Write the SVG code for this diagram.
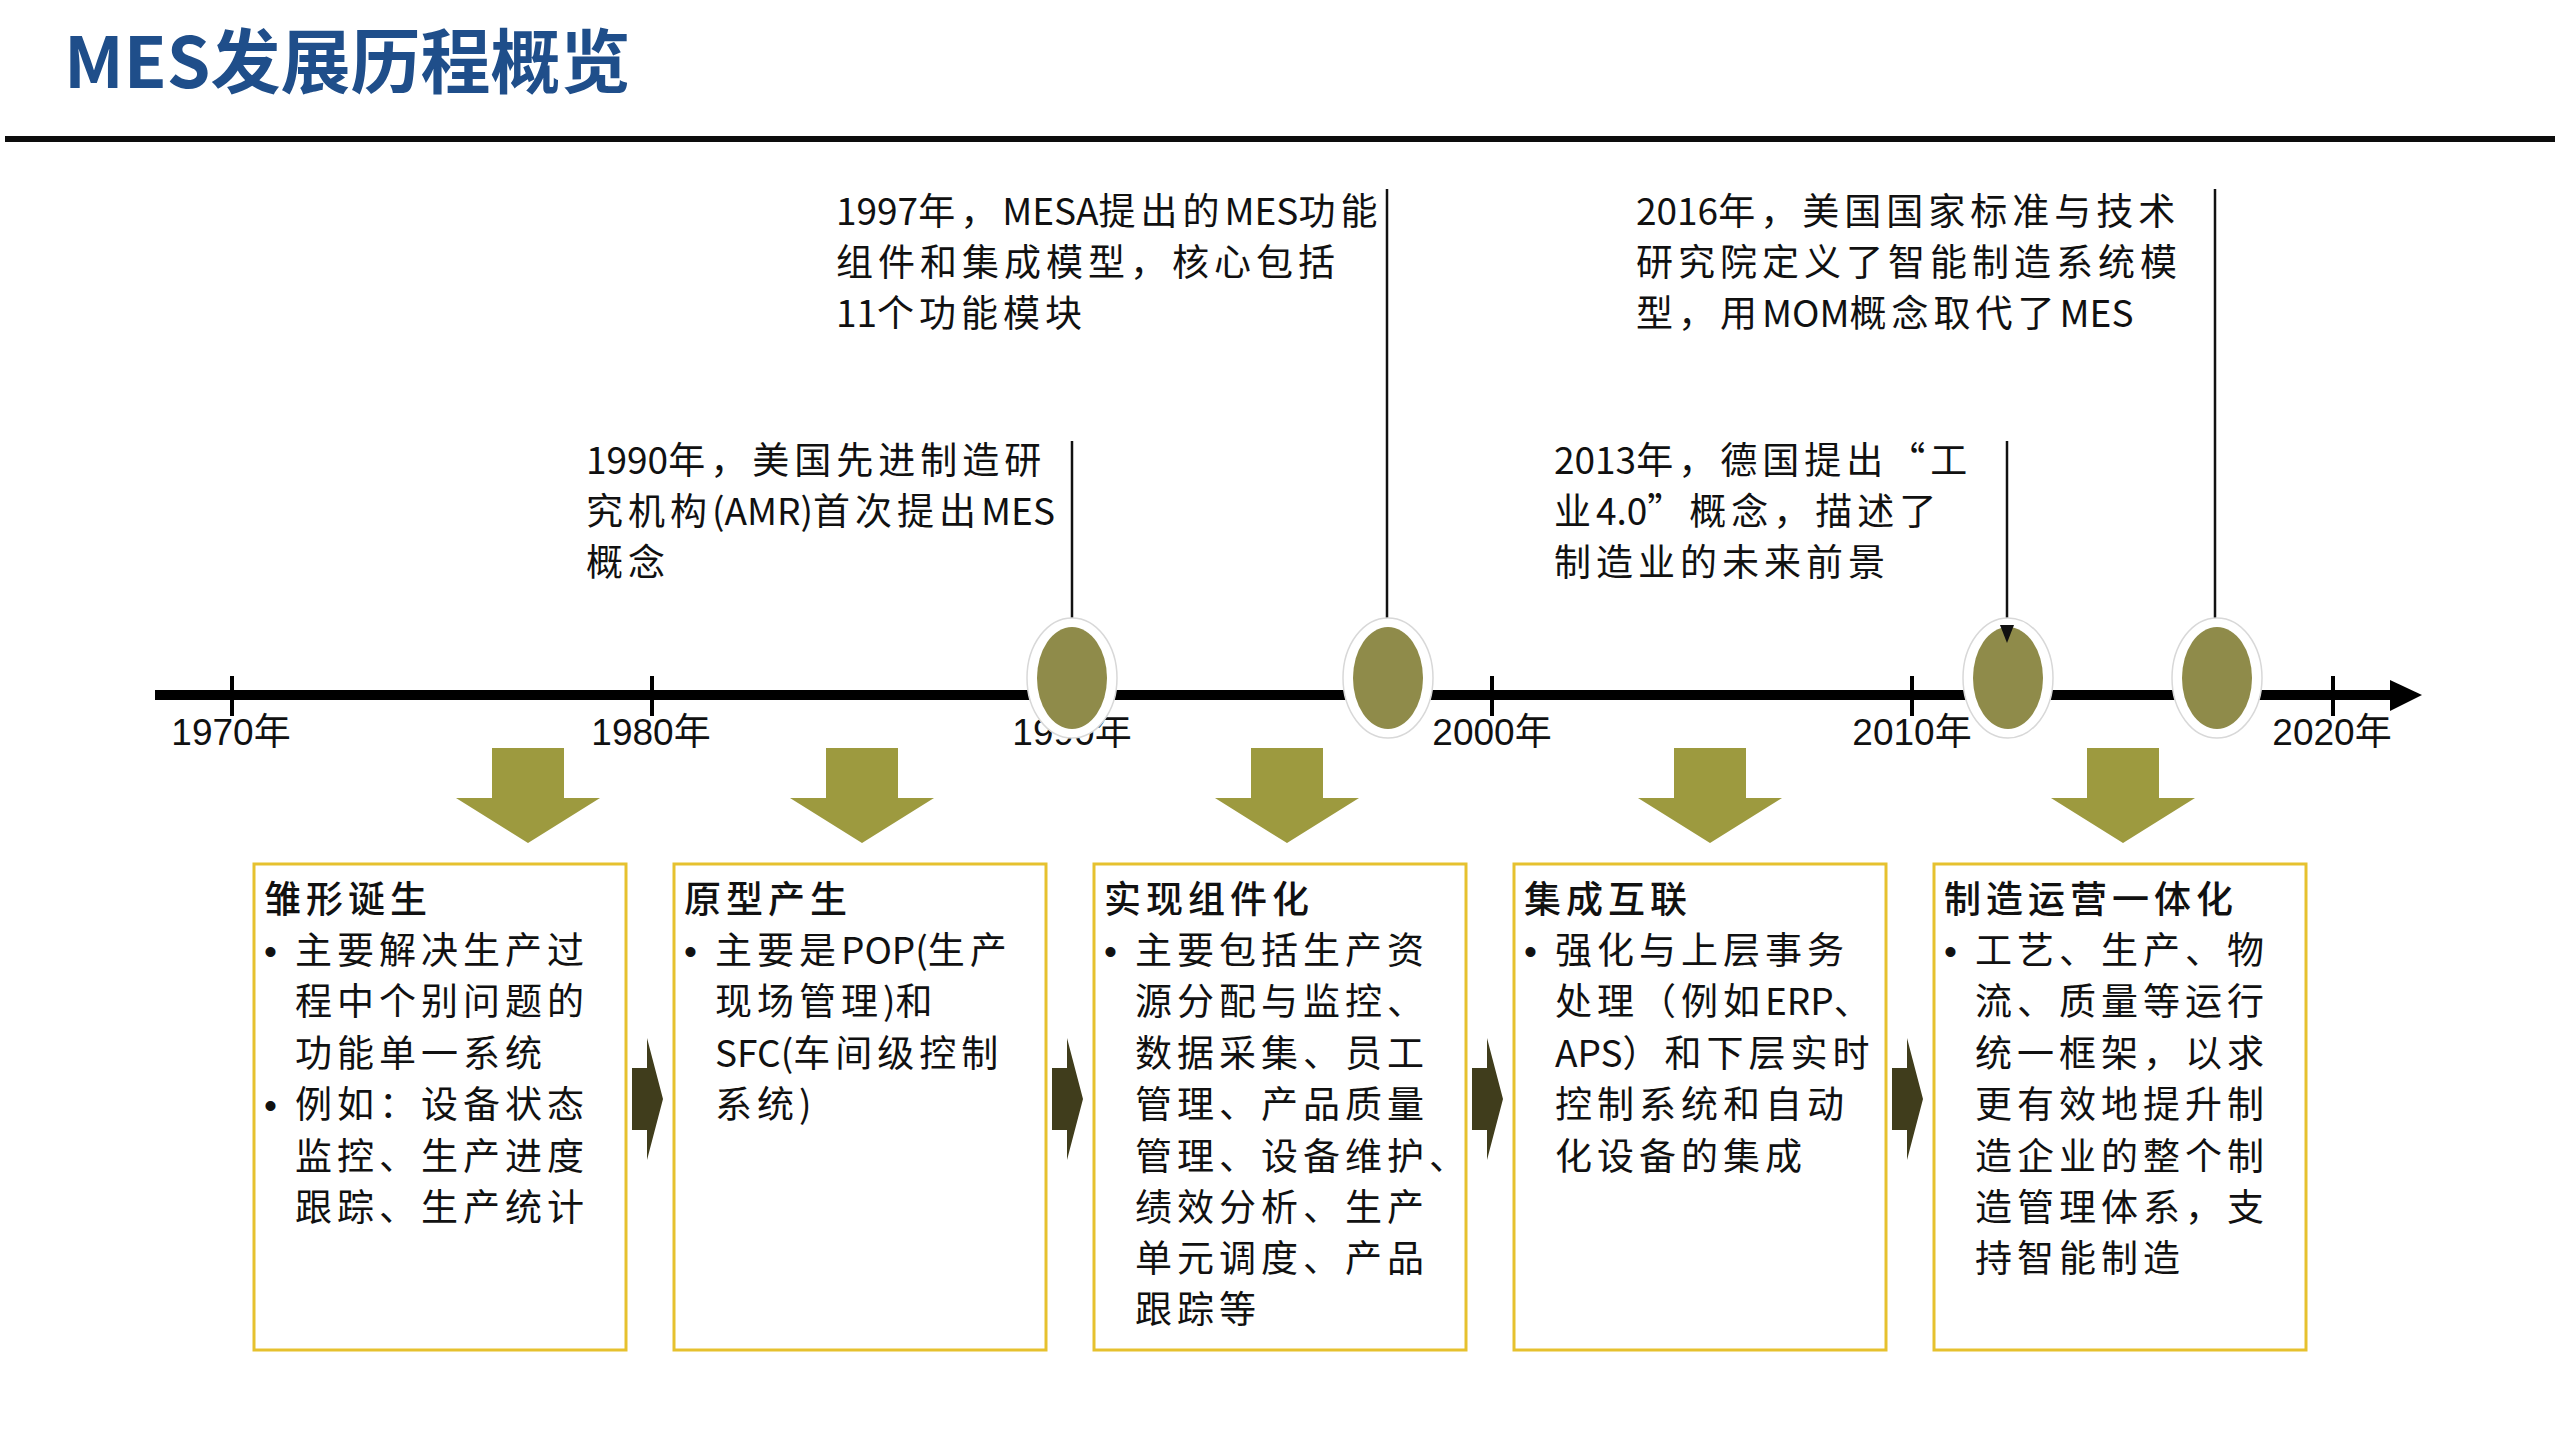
<svg xmlns="http://www.w3.org/2000/svg" width="2560" height="1440" viewBox="0 0 2560 1440">
<style>
.t{font-family:"Noto Sans CJK SC","Liberation Sans",sans-serif;font-size:37px;fill:#111;letter-spacing:5px;}
.l{letter-spacing:0;}
.yr{font-family:"Liberation Sans","Noto Sans CJK SC",sans-serif;font-size:37px;fill:#111;text-anchor:middle;}
.hd{font-weight:500;}
.bul{font-family:"Liberation Sans",sans-serif;font-size:37px;fill:#111;}
.box{fill:#fff;stroke:#E6C12E;stroke-width:3;}
.dn{fill:#9D9A3F;}
.rt{fill:#403D1C;}
.vl{stroke:#111;stroke-width:2.5;fill:none;}
.eo{fill:#fff;stroke:#d8d8d8;stroke-width:1.5;}
.ei{fill:#8F8B4A;}
</style>
<rect width="2560" height="1440" fill="#fff"/>
<text x="64" y="88" font-family="'Noto Sans CJK SC',sans-serif" font-size="70" font-weight="bold" fill="#1F4E8A">MES发展历程概览</text>
<rect x="5" y="136" width="2550" height="6" fill="#0d0d0d"/>

<g id="timeline">
<rect x="155" y="690" width="2240" height="10" fill="#000"/>
<polygon points="2390,680 2422,695 2390,711" fill="#000"/>
<g fill="#000">
<rect x="230" y="676" width="4" height="40"/>
<rect x="650" y="676" width="4" height="40"/>
<rect x="1070" y="676" width="4" height="40"/>
<rect x="1490" y="676" width="4" height="40"/>
<rect x="1910" y="676" width="4" height="40"/>
<rect x="2331" y="676" width="4" height="40"/>
</g>
<text class="yr" x="231" y="745">1970年</text>
<text class="yr" x="651" y="745">1980年</text>
<text class="yr" x="1072" y="745">1990年</text>
<text class="yr" x="1492" y="745">2000年</text>
<text class="yr" x="1912" y="745">2010年</text>
<text class="yr" x="2332" y="745">2020年</text>
</g>

<g id="connectors">
<line class="vl" x1="1072" y1="441" x2="1072" y2="620"/>
<line class="vl" x1="1387" y1="189" x2="1387" y2="620"/>
<line class="vl" x1="2007" y1="441" x2="2007" y2="628"/>
<line class="vl" x1="2215" y1="189" x2="2215" y2="620"/>
<g id="down-arrows">
<polygon class="dn" points="492,748 564,748 564,798 600,798 528,843 456,798 492,798"/>
<polygon class="dn" points="826,748 898,748 898,798 934,798 862,843 790,798 826,798"/>
<polygon class="dn" points="1251,748 1323,748 1323,798 1359,798 1287,843 1215,798 1251,798"/>
<polygon class="dn" points="1674,748 1746,748 1746,798 1782,798 1710,843 1638,798 1674,798"/>
<polygon class="dn" points="2087,748 2159,748 2159,798 2195,798 2123,843 2051,798 2087,798"/>
</g>
<g id="side-arrows">
<polygon class="rt" points="632,1068 647,1068 647,1038 663,1099 647,1160 647,1130 632,1130"/>
<polygon class="rt" points="1052,1068 1067,1068 1067,1038 1083,1099 1067,1160 1067,1130 1052,1130"/>
<polygon class="rt" points="1472,1068 1487,1068 1487,1038 1503,1099 1487,1160 1487,1130 1472,1130"/>
<polygon class="rt" points="1892,1068 1907,1068 1907,1038 1923,1099 1907,1160 1907,1130 1892,1130"/>
</g>
</g>

<g id="marker-1990"><ellipse class="eo" cx="1072" cy="678" rx="45" ry="60"/><ellipse class="ei" cx="1072" cy="678" rx="35" ry="51"/></g>
<g id="marker-1997"><ellipse class="eo" cx="1388" cy="678" rx="45" ry="60"/><ellipse class="ei" cx="1388" cy="678" rx="35" ry="51"/></g>
<g id="marker-2013"><ellipse class="eo" cx="2008" cy="678" rx="45" ry="60"/><ellipse class="ei" cx="2008" cy="678" rx="35" ry="51"/><polygon points="2000,625 2014,625 2007,643" fill="#111"/></g>
<g id="marker-2016"><ellipse class="eo" cx="2217" cy="678" rx="45" ry="60"/><ellipse class="ei" cx="2217" cy="678" rx="35" ry="51"/></g>

<g id="note-1990">
<text class="t" x="586" y="474"><tspan class="l">1990</tspan>年，美国先进制造研</text>
<text class="t" x="586" y="525">究机构<tspan class="l">(AMR)</tspan>首次提出<tspan class="l">MES</tspan></text>
<text class="t" x="586" y="576">概念</text>
</g>
<g id="note-1997">
<text class="t" x="836" y="225"><tspan class="l">1997</tspan>年，<tspan class="l">MESA</tspan>提出的<tspan class="l">MES</tspan>功能</text>
<text class="t" x="836" y="276">组件和集成模型，核心包括</text>
<text class="t" x="836" y="327"><tspan class="l">11</tspan>个功能模块</text>
</g>
<g id="note-2013">
<text class="t" x="1554" y="474"><tspan class="l">2013</tspan>年，德国提出“工</text>
<text class="t" x="1554" y="525">业<tspan class="l">4.0</tspan>”概念，描述了</text>
<text class="t" x="1554" y="576">制造业的未来前景</text>
</g>
<g id="note-2016">
<text class="t" x="1636" y="225"><tspan class="l">2016</tspan>年，美国国家标准与技术</text>
<text class="t" x="1636" y="276">研究院定义了智能制造系统模</text>
<text class="t" x="1636" y="327">型，用<tspan class="l">MOM</tspan>概念取代了<tspan class="l">MES</tspan></text>
</g>

<g id="stage-1">
<rect class="box" x="254" y="864" width="372" height="486"/>
<text class="t hd" x="264" y="913">雏形诞生</text>
<text class="bul" x="264" y="964">•</text>
<text class="t" x="295" y="964">主要解决生产过</text>
<text class="t" x="295" y="1015">程中个别问题的</text>
<text class="t" x="295" y="1067">功能单一系统</text>
<text class="bul" x="264" y="1118">•</text>
<text class="t" x="295" y="1118">例如：设备状态</text>
<text class="t" x="295" y="1170">监控、生产进度</text>
<text class="t" x="295" y="1221">跟踪、生产统计</text>
</g>
<g id="stage-2">
<rect class="box" x="674" y="864" width="372" height="486"/>
<text class="t hd" x="684" y="913">原型产生</text>
<text class="bul" x="684" y="964">•</text>
<text class="t" x="715" y="964">主要是<tspan class="l">POP(</tspan>生产</text>
<text class="t" x="715" y="1015">现场管理<tspan class="l">)</tspan>和</text>
<text class="t" x="715" y="1067"><tspan class="l">SFC(</tspan>车间级控制</text>
<text class="t" x="715" y="1118">系统<tspan class="l">)</tspan></text>
</g>
<g id="stage-3">
<rect class="box" x="1094" y="864" width="372" height="486"/>
<text class="t hd" x="1104" y="913">实现组件化</text>
<text class="bul" x="1104" y="964">•</text>
<text class="t" x="1135" y="964">主要包括生产资</text>
<text class="t" x="1135" y="1015">源分配与监控、</text>
<text class="t" x="1135" y="1067">数据采集、员工</text>
<text class="t" x="1135" y="1118">管理、产品质量</text>
<text class="t" x="1135" y="1170">管理、设备维护、</text>
<text class="t" x="1135" y="1221">绩效分析、生产</text>
<text class="t" x="1135" y="1272">单元调度、产品</text>
<text class="t" x="1135" y="1323">跟踪等</text>
</g>
<g id="stage-4">
<rect class="box" x="1514" y="864" width="372" height="486"/>
<text class="t hd" x="1524" y="913">集成互联</text>
<text class="bul" x="1524" y="964">•</text>
<text class="t" x="1555" y="964">强化与上层事务</text>
<text class="t" x="1555" y="1015">处理（例如<tspan class="l">ERP</tspan>、</text>
<text class="t" x="1555" y="1067"><tspan class="l">APS</tspan>）和下层实时</text>
<text class="t" x="1555" y="1118">控制系统和自动</text>
<text class="t" x="1555" y="1170">化设备的集成</text>
</g>
<g id="stage-5">
<rect class="box" x="1934" y="864" width="372" height="486"/>
<text class="t hd" x="1944" y="913">制造运营一体化</text>
<text class="bul" x="1944" y="964">•</text>
<text class="t" x="1975" y="964">工艺、生产、物</text>
<text class="t" x="1975" y="1015">流、质量等运行</text>
<text class="t" x="1975" y="1067">统一框架，以求</text>
<text class="t" x="1975" y="1118">更有效地提升制</text>
<text class="t" x="1975" y="1170">造企业的整个制</text>
<text class="t" x="1975" y="1221">造管理体系，支</text>
<text class="t" x="1975" y="1272">持智能制造</text>
</g>
</svg>
